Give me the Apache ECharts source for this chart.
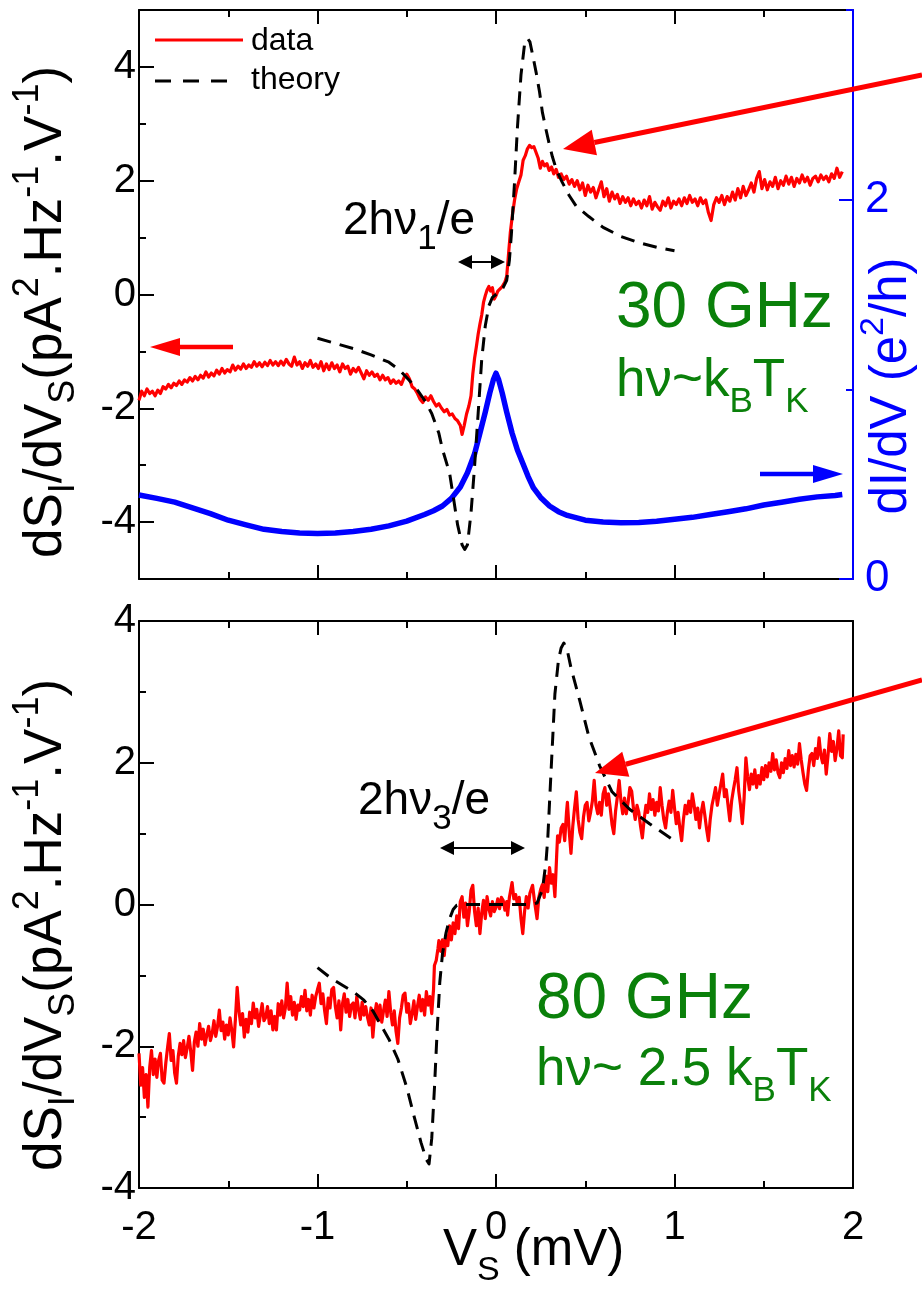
<!DOCTYPE html>
<html><head><meta charset="utf-8">
<script src="https://cdn.jsdelivr.net/npm/echarts@6/dist/echarts.min.js"></script>
<style>html,body{margin:0;padding:0;background:#fff}#c{width:922px;height:1292px}</style>
</head><body><div id="c"></div>
<script>
// ---------------- data ----------------
const xRange = [-2, 2];
const topLeftLabels = [-4, -2, 0, 2, 4];
const topLeftMinor = [-3, -1, 1, 3];
const topRightLabels = [0, 2];
const topRightMinor = [1, 3];

// top panel, 30 GHz, dS_I/dV_S data
const dataTop = [[-2.000,-1.86],[-1.985,-1.70],[-1.970,-1.78],[-1.955,-1.66],[-1.940,-1.74],[-1.925,-1.70],[-1.910,-1.78],[-1.895,-1.68],[-1.880,-1.74],[-1.865,-1.62],[-1.850,-1.66],[-1.835,-1.58],[-1.820,-1.64],[-1.805,-1.56],[-1.790,-1.60],[-1.775,-1.52],[-1.760,-1.58],[-1.745,-1.50],[-1.730,-1.54],[-1.715,-1.46],[-1.700,-1.52],[-1.685,-1.44],[-1.670,-1.50],[-1.655,-1.42],[-1.640,-1.47],[-1.625,-1.36],[-1.610,-1.45],[-1.595,-1.38],[-1.580,-1.43],[-1.565,-1.33],[-1.550,-1.40],[-1.535,-1.30],[-1.520,-1.38],[-1.505,-1.32],[-1.490,-1.36],[-1.475,-1.24],[-1.460,-1.33],[-1.445,-1.26],[-1.430,-1.31],[-1.415,-1.22],[-1.400,-1.30],[-1.385,-1.24],[-1.370,-1.28],[-1.355,-1.18],[-1.340,-1.26],[-1.325,-1.20],[-1.310,-1.27],[-1.295,-1.19],[-1.280,-1.25],[-1.265,-1.16],[-1.250,-1.24],[-1.235,-1.18],[-1.220,-1.25],[-1.205,-1.17],[-1.190,-1.24],[-1.175,-1.14],[-1.160,-1.22],[-1.145,-1.26],[-1.130,-1.10],[-1.115,-1.24],[-1.100,-1.18],[-1.085,-1.30],[-1.070,-1.20],[-1.055,-1.26],[-1.040,-1.16],[-1.025,-1.28],[-1.010,-1.22],[-0.995,-1.30],[-0.980,-1.18],[-0.965,-1.34],[-0.950,-1.22],[-0.935,-1.32],[-0.920,-1.20],[-0.905,-1.30],[-0.890,-1.24],[-0.875,-1.36],[-0.860,-1.22],[-0.845,-1.30],[-0.830,-1.26],[-0.815,-1.40],[-0.800,-1.30],[-0.785,-1.36],[-0.770,-1.28],[-0.755,-1.38],[-0.740,-1.48],[-0.725,-1.34],[-0.710,-1.42],[-0.695,-1.36],[-0.680,-1.44],[-0.665,-1.40],[-0.650,-1.50],[-0.635,-1.42],[-0.620,-1.50],[-0.605,-1.46],[-0.590,-1.56],[-0.575,-1.50],[-0.560,-1.56],[-0.545,-1.52],[-0.530,-1.58],[-0.515,-1.46],[-0.500,-1.40],[-0.485,-1.48],[-0.470,-1.62],[-0.455,-1.66],[-0.440,-1.74],[-0.425,-1.84],[-0.410,-1.90],[-0.395,-1.80],[-0.380,-1.86],[-0.365,-1.78],[-0.350,-1.88],[-0.335,-1.96],[-0.320,-1.92],[-0.305,-2.00],[-0.290,-2.06],[-0.275,-2.02],[-0.260,-2.12],[-0.245,-2.10],[-0.230,-2.18],[-0.215,-2.22],[-0.200,-2.30],[-0.190,-2.46],[-0.178,-2.30],[-0.165,-2.10],[-0.152,-1.96],[-0.140,-1.78],[-0.130,-1.40],[-0.120,-1.12],[-0.110,-0.92],[-0.100,-0.70],[-0.090,-0.52],[-0.080,-0.36],[-0.070,-0.14],[-0.060,-0.02],[-0.050,0.08],[-0.040,0.14],[-0.030,0.06],[-0.020,0.12],[-0.010,-0.08],[0.000,-0.02],[0.010,0.06],[0.020,0.08],[0.035,0.14],[0.050,0.22],[0.060,0.32],[0.070,0.70],[0.080,1.08],[0.092,1.40],[0.104,1.66],[0.116,1.86],[0.128,1.98],[0.140,2.10],[0.152,2.36],[0.164,2.44],[0.176,2.56],[0.188,2.62],[0.200,2.58],[0.212,2.60],[0.224,2.50],[0.236,2.40],[0.248,2.22],[0.260,2.34],[0.272,2.26],[0.285,2.30],[0.298,2.18],[0.311,2.24],[0.324,2.12],[0.337,2.20],[0.350,2.06],[0.365,2.12],[0.380,2.02],[0.395,2.08],[0.410,1.94],[0.425,2.02],[0.440,1.90],[0.455,2.00],[0.470,1.84],[0.485,1.96],[0.500,1.74],[0.515,1.92],[0.530,1.80],[0.545,1.88],[0.560,1.70],[0.575,1.84],[0.590,1.98],[0.605,1.72],[0.620,1.86],[0.635,1.64],[0.650,1.80],[0.665,1.68],[0.680,1.76],[0.695,1.60],[0.710,1.72],[0.725,1.62],[0.740,1.70],[0.755,1.56],[0.770,1.68],[0.785,1.58],[0.800,1.64],[0.815,1.52],[0.830,1.66],[0.845,1.56],[0.860,1.72],[0.875,1.50],[0.890,1.62],[0.905,1.54],[0.920,1.48],[0.935,1.64],[0.950,1.56],[0.965,1.70],[0.980,1.52],[0.995,1.64],[1.010,1.58],[1.025,1.68],[1.040,1.56],[1.055,1.70],[1.070,1.60],[1.085,1.74],[1.100,1.62],[1.115,1.68],[1.130,1.56],[1.145,1.70],[1.160,1.60],[1.175,1.66],[1.190,1.44],[1.205,1.30],[1.220,1.58],[1.235,1.70],[1.250,1.62],[1.265,1.74],[1.280,1.58],[1.295,1.72],[1.310,1.64],[1.325,1.80],[1.340,1.66],[1.355,1.86],[1.370,1.70],[1.385,1.90],[1.400,1.74],[1.415,1.84],[1.430,1.96],[1.445,1.80],[1.460,2.04],[1.475,2.16],[1.490,1.86],[1.505,2.02],[1.520,1.84],[1.535,1.98],[1.550,1.90],[1.565,2.06],[1.580,1.86],[1.595,2.00],[1.610,1.92],[1.625,2.08],[1.640,1.94],[1.655,2.06],[1.670,1.90],[1.685,2.04],[1.700,1.96],[1.715,2.10],[1.730,1.98],[1.745,2.06],[1.760,1.92],[1.775,2.04],[1.790,2.08],[1.805,1.98],[1.820,2.10],[1.835,2.02],[1.850,2.08],[1.865,1.98],[1.880,2.12],[1.895,2.04],[1.910,2.22],[1.925,2.06],[1.940,2.16]];

// top panel, theory curve
const theoryTop = [[-1.00,-0.77],[-0.90,-0.86],[-0.80,-0.95],[-0.70,-1.06],[-0.60,-1.19],[-0.54,-1.33],[-0.485,-1.51],[-0.44,-1.68],[-0.40,-1.86],[-0.36,-2.09],[-0.32,-2.44],[-0.30,-2.72],[-0.26,-3.14],[-0.244,-3.46],[-0.215,-4.05],[-0.19,-4.40],[-0.175,-4.48],[-0.16,-4.40],[-0.14,-3.84],[-0.12,-3.02],[-0.10,-2.09],[-0.08,-1.14],[-0.06,-0.55],[-0.04,-0.20],[-0.02,-0.05],[0.00,0.00],[0.02,0.05],[0.04,0.12],[0.06,0.25],[0.075,0.60],[0.086,1.05],[0.104,1.98],[0.12,2.93],[0.14,3.86],[0.16,4.40],[0.177,4.50],[0.19,4.44],[0.206,4.20],[0.225,3.90],[0.244,3.56],[0.26,3.20],[0.28,2.90],[0.30,2.62],[0.316,2.42],[0.34,2.18],[0.37,1.98],[0.41,1.74],[0.45,1.55],[0.52,1.37],[0.60,1.18],[0.70,1.02],[0.80,0.91],[0.90,0.83],[1.00,0.77]];

// top panel, dI/dV (e^2/h), right axis
const dIdVTop = [[-2.00,0.443],[-1.90,0.425],[-1.80,0.405],[-1.70,0.375],[-1.60,0.345],[-1.50,0.31],[-1.40,0.285],[-1.30,0.262],[-1.20,0.25],[-1.10,0.243],[-1.00,0.24],[-0.90,0.242],[-0.80,0.25],[-0.70,0.262],[-0.60,0.28],[-0.50,0.305],[-0.40,0.34],[-0.35,0.36],[-0.30,0.385],[-0.25,0.425],[-0.20,0.485],[-0.16,0.56],[-0.12,0.66],[-0.09,0.77],[-0.06,0.88],[-0.035,0.98],[-0.015,1.05],[0.00,1.085],[0.015,1.05],[0.035,0.98],[0.06,0.88],[0.09,0.77],[0.12,0.68],[0.15,0.61],[0.18,0.54],[0.21,0.48],[0.25,0.43],[0.30,0.385],[0.35,0.355],[0.40,0.335],[0.50,0.31],[0.60,0.30],[0.70,0.297],[0.80,0.298],[0.90,0.305],[1.00,0.315],[1.10,0.325],[1.20,0.34],[1.30,0.355],[1.40,0.37],[1.50,0.39],[1.60,0.405],[1.70,0.42],[1.80,0.433],[1.90,0.44],[1.94,0.445]];

// bottom panel, 80 GHz, data
const dataBottom = [[-2.000,-2.10],[-1.990,-2.55],[-1.980,-2.30],[-1.970,-2.72],[-1.960,-2.40],[-1.950,-2.86],[-1.940,-2.30],[-1.930,-2.06],[-1.920,-2.40],[-1.910,-2.18],[-1.900,-2.44],[-1.890,-2.20],[-1.880,-2.10],[-1.870,-2.48],[-1.860,-2.52],[-1.850,-2.24],[-1.840,-2.02],[-1.830,-1.82],[-1.820,-2.20],[-1.810,-2.06],[-1.800,-2.38],[-1.790,-2.52],[-1.780,-2.14],[-1.770,-1.96],[-1.760,-2.12],[-1.750,-1.92],[-1.740,-2.16],[-1.730,-2.02],[-1.720,-1.86],[-1.710,-2.08],[-1.700,-2.34],[-1.690,-1.94],[-1.680,-1.80],[-1.670,-2.00],[-1.660,-1.68],[-1.650,-1.90],[-1.640,-1.76],[-1.630,-1.98],[-1.620,-1.84],[-1.610,-1.72],[-1.600,-1.92],[-1.590,-1.82],[-1.580,-1.64],[-1.570,-1.86],[-1.560,-1.72],[-1.550,-1.49],[-1.540,-1.78],[-1.530,-1.66],[-1.520,-1.90],[-1.510,-1.70],[-1.500,-1.84],[-1.490,-1.60],[-1.480,-1.78],[-1.470,-2.01],[-1.460,-1.62],[-1.450,-1.17],[-1.440,-1.50],[-1.430,-1.70],[-1.420,-1.54],[-1.410,-1.87],[-1.400,-1.62],[-1.390,-1.80],[-1.380,-1.52],[-1.370,-1.68],[-1.360,-1.39],[-1.350,-1.60],[-1.340,-1.48],[-1.330,-1.72],[-1.320,-1.56],[-1.310,-1.40],[-1.300,-1.64],[-1.290,-1.59],[-1.280,-1.44],[-1.270,-1.68],[-1.260,-1.50],[-1.250,-1.77],[-1.240,-1.58],[-1.230,-1.77],[-1.220,-1.40],[-1.210,-1.56],[-1.200,-1.36],[-1.190,-1.60],[-1.180,-1.46],[-1.170,-1.11],[-1.160,-1.48],[-1.150,-1.30],[-1.140,-1.56],[-1.130,-1.38],[-1.120,-1.62],[-1.110,-1.42],[-1.100,-1.49],[-1.090,-1.30],[-1.080,-1.44],[-1.070,-1.21],[-1.060,-1.50],[-1.050,-1.34],[-1.040,-1.56],[-1.030,-1.28],[-1.020,-1.46],[-1.010,-1.30],[-1.000,-1.20],[-0.990,-1.11],[-0.980,-1.40],[-0.970,-1.26],[-0.960,-1.50],[-0.950,-1.68],[-0.940,-1.32],[-0.930,-1.46],[-0.920,-1.20],[-0.910,-1.17],[-0.900,-1.44],[-0.890,-1.60],[-0.880,-1.36],[-0.870,-1.77],[-0.860,-1.40],[-0.850,-1.26],[-0.840,-1.52],[-0.830,-1.34],[-0.820,-1.58],[-0.810,-1.42],[-0.800,-1.39],[-0.790,-1.60],[-0.780,-1.30],[-0.770,-1.48],[-0.760,-1.62],[-0.750,-1.38],[-0.740,-1.56],[-0.730,-1.44],[-0.720,-1.59],[-0.710,-1.70],[-0.700,-1.46],[-0.690,-1.87],[-0.680,-1.56],[-0.670,-1.40],[-0.660,-1.64],[-0.650,-1.42],[-0.640,-1.66],[-0.630,-1.50],[-0.620,-1.35],[-0.610,-1.58],[-0.600,-1.23],[-0.590,-1.52],[-0.580,-1.70],[-0.570,-1.50],[-0.560,-1.79],[-0.550,-1.96],[-0.540,-1.60],[-0.530,-1.46],[-0.520,-1.28],[-0.510,-1.25],[-0.500,-1.52],[-0.490,-1.40],[-0.480,-1.68],[-0.470,-1.54],[-0.460,-1.36],[-0.450,-1.62],[-0.440,-1.44],[-0.430,-1.28],[-0.420,-1.50],[-0.410,-1.34],[-0.400,-1.56],[-0.390,-1.23],[-0.380,-1.42],[-0.370,-1.30],[-0.360,-1.54],[-0.350,-1.20],[-0.345,-0.86],[-0.335,-0.79],[-0.325,-0.62],[-0.320,-0.51],[-0.310,-0.66],[-0.300,-0.50],[-0.290,-0.72],[-0.280,-0.44],[-0.270,-0.58],[-0.260,-0.30],[-0.250,-0.50],[-0.240,-0.26],[-0.230,-0.41],[-0.220,-0.16],[-0.210,-0.34],[-0.200,0.04],[-0.190,0.11],[-0.180,-0.18],[-0.170,0.02],[-0.160,-0.30],[-0.150,-0.10],[-0.140,0.20],[-0.130,0.27],[-0.120,-0.10],[-0.110,-0.30],[-0.100,-0.05],[-0.090,-0.41],[-0.080,-0.12],[-0.070,0.06],[-0.060,-0.20],[-0.050,0.11],[-0.040,-0.06],[-0.030,-0.16],[-0.020,0.04],[-0.010,-0.10],[0.000,-0.04],[0.010,0.08],[0.020,-0.06],[0.030,0.10],[0.040,0.06],[0.050,-0.08],[0.060,0.04],[0.065,-0.15],[0.075,0.10],[0.090,0.31],[0.100,0.08],[0.110,0.14],[0.120,0.00],[0.130,0.10],[0.140,-0.20],[0.150,-0.41],[0.160,-0.10],[0.170,0.11],[0.180,-0.05],[0.190,0.16],[0.205,0.27],[0.215,0.06],[0.230,-0.20],[0.240,0.10],[0.250,0.21],[0.260,0.28],[0.270,0.10],[0.280,0.40],[0.290,0.18],[0.300,0.52],[0.310,0.30],[0.320,0.42],[0.330,0.11],[0.340,0.70],[0.345,0.97],[0.355,0.88],[0.365,1.08],[0.375,1.13],[0.385,0.90],[0.395,1.30],[0.400,1.44],[0.410,1.04],[0.420,0.72],[0.430,1.10],[0.440,1.36],[0.450,1.59],[0.460,1.20],[0.470,1.02],[0.480,0.93],[0.490,1.23],[0.500,1.40],[0.510,1.44],[0.520,1.18],[0.530,1.30],[0.540,1.46],[0.550,1.75],[0.560,1.40],[0.570,1.28],[0.580,1.44],[0.590,1.26],[0.600,1.56],[0.610,1.65],[0.620,1.40],[0.630,1.56],[0.640,1.36],[0.650,1.13],[0.660,1.00],[0.670,1.32],[0.680,1.52],[0.690,1.75],[0.700,1.46],[0.710,1.28],[0.720,1.50],[0.730,1.28],[0.740,1.44],[0.750,1.65],[0.760,1.60],[0.770,1.36],[0.780,1.20],[0.790,1.40],[0.800,1.30],[0.810,1.10],[0.820,0.94],[0.830,1.20],[0.840,1.40],[0.850,1.30],[0.860,1.56],[0.870,1.34],[0.880,1.48],[0.890,1.26],[0.900,1.44],[0.910,1.32],[0.920,1.65],[0.930,1.40],[0.940,1.20],[0.950,1.08],[0.960,1.30],[0.970,1.46],[0.980,1.30],[0.990,1.61],[1.000,1.36],[1.010,1.14],[1.020,1.30],[1.030,1.08],[1.040,0.90],[1.050,1.20],[1.060,1.40],[1.070,1.28],[1.080,1.46],[1.090,1.30],[1.100,1.56],[1.110,1.40],[1.120,1.20],[1.130,1.36],[1.140,1.08],[1.150,1.30],[1.160,1.44],[1.170,1.26],[1.180,1.06],[1.190,0.90],[1.200,1.20],[1.210,1.40],[1.220,1.52],[1.230,1.65],[1.240,1.40],[1.250,1.56],[1.260,1.70],[1.270,1.84],[1.280,1.52],[1.290,1.62],[1.300,1.40],[1.310,1.18],[1.320,1.46],[1.330,1.62],[1.340,1.76],[1.350,1.93],[1.360,1.60],[1.370,1.40],[1.380,1.14],[1.390,1.50],[1.400,2.07],[1.410,1.80],[1.420,1.62],[1.430,1.84],[1.440,1.70],[1.450,1.90],[1.460,1.65],[1.470,1.82],[1.480,1.70],[1.490,1.93],[1.500,1.76],[1.510,1.96],[1.520,1.80],[1.530,2.00],[1.540,1.88],[1.550,2.13],[1.560,1.90],[1.570,2.04],[1.580,1.86],[1.590,1.79],[1.600,2.00],[1.610,1.86],[1.620,2.06],[1.630,1.92],[1.640,2.17],[1.650,1.96],[1.660,2.10],[1.670,1.94],[1.680,2.12],[1.690,1.98],[1.700,2.27],[1.710,2.04],[1.720,1.86],[1.730,1.70],[1.740,1.61],[1.750,1.90],[1.760,2.10],[1.770,2.13],[1.780,1.96],[1.790,2.20],[1.800,2.06],[1.810,2.35],[1.820,2.10],[1.830,2.00],[1.840,2.18],[1.850,1.84],[1.860,2.10],[1.870,2.41],[1.880,2.16],[1.890,2.30],[1.900,2.03],[1.910,2.20],[1.920,2.45],[1.930,2.10],[1.940,2.07],[1.945,2.40]];

// bottom panel, theory curve
const theoryBottom = [[-1.00,-0.89],[-0.93,-1.03],[-0.86,-1.14],[-0.80,-1.23],[-0.74,-1.35],[-0.69,-1.50],[-0.65,-1.68],[-0.60,-1.90],[-0.55,-2.18],[-0.50,-2.58],[-0.46,-2.98],[-0.42,-3.36],[-0.39,-3.60],[-0.375,-3.66],[-0.36,-3.30],[-0.345,-2.60],[-0.33,-1.80],[-0.315,-1.10],[-0.30,-0.70],[-0.28,-0.40],[-0.26,-0.20],[-0.24,-0.07],[-0.22,-0.01],[-0.20,0.00],[0.20,0.00],[0.23,0.02],[0.26,0.21],[0.28,0.60],[0.29,0.93],[0.31,1.96],[0.33,2.97],[0.35,3.45],[0.365,3.62],[0.38,3.69],[0.40,3.58],[0.42,3.34],[0.47,2.87],[0.52,2.37],[0.58,1.96],[0.65,1.59],[0.75,1.34],[0.86,1.14],[1.00,0.90]];

// ---------------- chart ----------------
const FONT = '"Liberation Sans", Arial, Helvetica, sans-serif';
const RED = '#ff0000', BLUE = '#0000ff', GREEN = '#0a800a', BLACK = '#000000';

function xAxisDef(grid, pos, showLabel) {
  return {
    type: 'value', gridIndex: grid, position: pos, min: xRange[0], max: xRange[1], interval: 1,
    axisLine: {show: true, onZero: false, lineStyle: {color: BLACK, width: 2}},
    axisTick: {show: true, inside: true, length: 14, lineStyle: {color: BLACK, width: 2}},
    minorTick: {show: true, splitNumber: 2, length: 7, lineStyle: {color: BLACK, width: 2}},
    splitLine: {show: false}, minorSplitLine: {show: false},
    axisLabel: {show: showLabel, fontSize: 40, color: BLACK, fontFamily: FONT, margin: 20,
      showMinLabel: true, showMaxLabel: true, hideOverlap: false}
  };
}

const xAxes = [xAxisDef(0, 'bottom', false), xAxisDef(0, 'top', false), xAxisDef(1, 'bottom', true), xAxisDef(1, 'top', false)];

const yAxes = [
  { // 0 top-left main
    type: 'value', gridIndex: 0, position: 'left', offset: 0, min: -5, max: 5, interval: 1,
    axisLine: {show: true, onZero: false, lineStyle: {color: BLACK, width: 2}},
    axisTick: {show: true, inside: true, length: 15, customValues: topLeftLabels, lineStyle: {color: BLACK, width: 2}},
    axisLabel: {show: true, customValues: topLeftLabels, fontSize: 40, color: BLACK, fontFamily: FONT, margin: 3},
    splitLine: {show: false}
  },
  { // 1 top-left minor ticks
    type: 'value', gridIndex: 0, position: 'left', offset: 0, min: -5, max: 5, interval: 1,
    axisLine: {show: false, onZero: false},
    axisTick: {show: true, inside: true, length: 7, customValues: topLeftMinor, lineStyle: {color: BLACK, width: 2}},
    axisLabel: {show: false}, splitLine: {show: false}
  },
  { // 2 top-right dI/dV
    type: 'value', gridIndex: 0, position: 'right', offset: 0, min: 0, max: 3, interval: 1, z: 5,
    axisLine: {show: true, onZero: false, lineStyle: {color: BLUE, width: 2}},
    axisTick: {show: true, inside: true, length: 14, customValues: topRightLabels, lineStyle: {color: BLUE, width: 2}},
    axisLabel: {show: true, customValues: topRightLabels, fontSize: 44, color: BLUE, fontFamily: FONT, margin: 12},
    splitLine: {show: false}
  },
  { // 3 top-right minor ticks
    type: 'value', gridIndex: 0, position: 'right', offset: 0, min: 0, max: 3, interval: 1, z: 5,
    axisLine: {show: false, onZero: false},
    axisTick: {show: true, inside: true, length: 7, customValues: topRightMinor, lineStyle: {color: BLUE, width: 2}},
    axisLabel: {show: false}, splitLine: {show: false}
  },
  { // 4 bottom-left
    type: 'value', gridIndex: 1, position: 'left', offset: 0, min: -4, max: 4, interval: 2,
    axisLine: {show: true, onZero: false, lineStyle: {color: BLACK, width: 2}},
    axisTick: {show: true, inside: true, length: 15, lineStyle: {color: BLACK, width: 2}},
    minorTick: {show: true, splitNumber: 2, length: 7, lineStyle: {color: BLACK, width: 2}},
    axisLabel: {show: true, fontSize: 40, color: BLACK, fontFamily: FONT, margin: 3, showMinLabel: true, showMaxLabel: true},
    splitLine: {show: false}, minorSplitLine: {show: false}
  },
  { // 5 bottom-right frame
    type: 'value', gridIndex: 1, position: 'right', offset: 0, min: -4, max: 4, interval: 2,
    axisLine: {show: true, onZero: false, lineStyle: {color: BLACK, width: 2}},
    axisTick: {show: false}, axisLabel: {show: false}, splitLine: {show: false}
  }
];

function lineSeries(name, data, xi, yi, color, width, dash, z) {
  return {
    name, type: 'line', data, xAxisIndex: xi, yAxisIndex: yi, showSymbol: false, symbol: 'none',
    smooth: false, animation: false, z,
    lineStyle: {color, width, type: dash || 'solid', cap: 'butt', join: 'round'}
  };
}

// ---- annotation helpers (positions of decorations only) ----
function headPts(tipX, tipY, fromX, fromY, L, W) {
  const dx = tipX - fromX, dy = tipY - fromY, len = Math.hypot(dx, dy);
  const ux = dx / len, uy = dy / len;
  const bx = tipX - ux * L, by = tipY - uy * L;
  return {base: [bx, by], pts: [[tipX, tipY], [bx - uy * W, by + ux * W], [bx + uy * W, by - ux * W]]};
}
function arrow(x1, y1, x2, y2, color, w, L, W) {
  const h = headPts(x2, y2, x1, y1, L, W);
  return [
    {type: 'line', shape: {x1, y1, x2: h.base[0], y2: h.base[1]}, style: {stroke: color, lineWidth: w}, z: 100},
    {type: 'polygon', shape: {points: h.pts}, style: {fill: color}, z: 100}
  ];
}
function dblArrow(x1, y1, x2, y2, color, w, L, W) {
  const h1 = headPts(x1, y1, x2, y2, L, W), h2 = headPts(x2, y2, x1, y1, L, W);
  return [
    {type: 'line', shape: {x1: h1.base[0], y1: h1.base[1], x2: h2.base[0], y2: h2.base[1]}, style: {stroke: color, lineWidth: w}, z: 100},
    {type: 'polygon', shape: {points: h1.pts}, style: {fill: color}, z: 100},
    {type: 'polygon', shape: {points: h2.pts}, style: {fill: color}, z: 100}
  ];
}
function rt(size, color, va) {
  return {fontSize: size, fontFamily: FONT, fill: color, lineHeight: size, verticalAlign: va};
}
function txt(x, y, text, size, color, opt) {
  opt = opt || {};
  const sub = opt.sub || Math.round(size * 0.68);
  return {
    type: 'text', x, y, rotation: opt.rot || 0, z: 100,
    style: {
      text, fontSize: size, fontFamily: FONT, fill: color, lineHeight: opt.lh || Math.round(size * 1.5),
      align: opt.align || 'left', verticalAlign: 'middle',
      rich: {s: rt(sub, color, 'bottom'), p: rt(sub, color, 'top')}
    }
  };
}

const yTitle = 'dS{s|I}/dV{s|S}(pA{p|2}.Hz{p|-1}.V{p|-1})';

const graphics = [].concat(
  // legend
  [{type: 'line', shape: {x1: 155, y1: 40, x2: 243, y2: 40}, style: {stroke: RED, lineWidth: 3}, z: 100},
   {type: 'line', shape: {x1: 155, y1: 81, x2: 232, y2: 81}, style: {stroke: BLACK, lineWidth: 3, lineDash: [16, 12]}, z: 100},
   txt(251, 41, 'data', 32, BLACK, {lh: 36}),
   txt(251, 80, 'theory', 32, BLACK, {lh: 36})],
  // axis titles
  [txt(46, 312, yTitle, 53, BLACK, {rot: Math.PI / 2, align: 'center', sub: 36, lh: 72}),
   txt(46, 925, yTitle, 53, BLACK, {rot: Math.PI / 2, align: 'center', sub: 36, lh: 72}),
   txt(892, 386, 'dI/dV (e{p|2}/h)', 51, BLUE, {rot: Math.PI / 2, align: 'center', sub: 34, lh: 70}),
   txt(443, 1251, 'V{s|S} (mV)', 51, BLACK, {sub: 34, lh: 74})],
  // annotations top
  [txt(343, 221, '2hν{s|1}/e', 46, BLACK, {sub: 35, lh: 72}),
   txt(616, 309, '30 GHz', 64, GREEN, {lh: 70}),
   txt(616, 381, 'hν~k{s|B}T{s|K}', 53, GREEN, {sub: 35, lh: 78})],
  dblArrow(458, 262, 505, 262, BLACK, 2, 14, 7),
  arrow(922, 75, 563, 149, RED, 5, 32, 13),
  arrow(233, 347, 150, 347, RED, 4.5, 30, 9),
  arrow(760, 474, 843, 474, BLUE, 4.5, 30, 9),
  // annotations bottom
  [txt(358, 801, '2hν{s|3}/e', 46, BLACK, {sub: 35, lh: 72}),
   txt(536, 1000, '80 GHz', 64, GREEN, {lh: 70}),
   txt(536, 1070, 'hν~ 2.5 k{s|B}T{s|K}', 53, GREEN, {sub: 35, lh: 78})],
  dblArrow(440, 848, 525, 848, BLACK, 2, 14, 7),
  arrow(922, 680, 595, 773, RED, 5, 32, 13)
);

const chart = echarts.init(document.getElementById('c'), null, {renderer: 'canvas'});
chart.setOption({
  animation: false,
  backgroundColor: '#ffffff',
  textStyle: {fontFamily: FONT},
  grid: [
    {left: 139, top: 10, width: 714, height: 569, containLabel: false, outerBoundsMode: 'none'},
    {left: 139, top: 621, width: 714, height: 567, containLabel: false, outerBoundsMode: 'none'}
  ],
  xAxis: xAxes,
  yAxis: yAxes,
  series: [
    lineSeries('data', dataTop, 0, 0, RED, 3.2, null, 2),
    lineSeries('dI/dV', dIdVTop, 0, 2, BLUE, 5.5, null, 3),
    lineSeries('theory', theoryTop, 0, 0, BLACK, 3, [14, 9], 4),
    lineSeries('data 80GHz', dataBottom, 2, 4, RED, 3.2, null, 2),
    lineSeries('theory 80GHz', theoryBottom, 2, 4, BLACK, 3, [14, 9], 4)
  ],
  graphic: graphics
});
</script>
</body></html>
